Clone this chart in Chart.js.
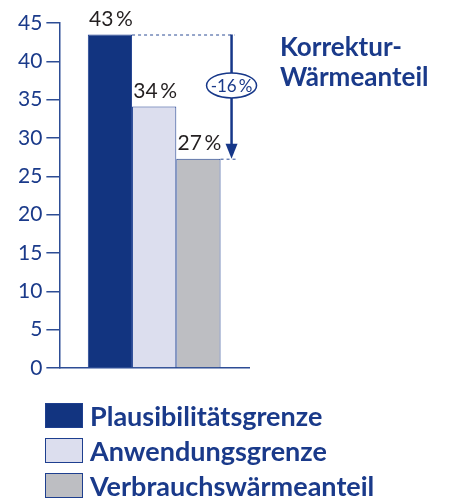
<!DOCTYPE html>
<html>
<head>
<meta charset="utf-8">
<script src="https://cdn.jsdelivr.net/npm/chart.js@4.4.1/dist/chart.umd.min.js"></script>
<style>
  html, body { margin: 0; padding: 0; background: #fff; }
  #wrap { position: relative; width: 452px; height: 498px; overflow: hidden; }
  #chart { position: absolute; left: 0; top: 0; }
  #title { position: absolute; left: 280px; top: 31px; font: bold 26px Lato, sans-serif; line-height: 30px; color: #1a3a8a; }
  #legend { position: absolute; left: 45px; top: 398px; }
  .row { display: flex; align-items: center; height: 35px; }
  .box { width: 36px; height: 23px; border: 1px solid #1e3f8f; margin-right: 7px; }
  .txt { font: bold 27px Lato, sans-serif; color: #1a3a8a; }
</style>
</head>
<body>
<div id="wrap">
  <canvas id="chart" width="452" height="498"></canvas>
  <div id="title">Korrektur-<br>Wärmeanteil</div>
  <div id="legend"></div>
</div>
<script>
// Daten
const seriesNames = ['Plausibilitätsgrenze', 'Anwendungsgrenze', 'Verbrauchswärmeanteil'];
const seriesValues = [43.5, 34.1, 27.3];
const valueLabels = ['43\u2009%', '34\u2009%', '27\u2009%'];
const seriesColors = ['#123480', '#dcdeee', '#bdbec2'];
const yTicks = [0, 5, 10, 15, 20, 25, 30, 35, 40, 45];
const diffLabel = '-16\u2009%';

const BLUE = '#1a3a8a';
const AXIS = '#2d4d95';

// Beschriftungen + Pfeil
const annotPlugin = {
  id: 'annot',
  afterDatasetsDraw(chart) {
    const ctx = chart.ctx;
    const bars = seriesValues.map((v, i) => chart.getDatasetMeta(i).data[0]);

    // Werte über den Balken
    ctx.save();
    ctx.font = '21px Lato, sans-serif';
    ctx.fillStyle = '#231f20';
    ctx.textAlign = 'center';
    ctx.textBaseline = 'alphabetic';
    bars.forEach((b, i) => ctx.fillText(valueLabels[i], b.x + 1, b.y - 9));
    ctx.restore();

    const first = bars[0], last = bars[bars.length - 1];
    const x1 = first.x + first.width / 2;
    const x3 = last.x + last.width / 2;
    const ax = x3 + 11;
    const y1 = first.y, y3 = last.y;

    ctx.save();
    ctx.strokeStyle = AXIS;
    ctx.lineWidth = 1;
    ctx.setLineDash([3, 3]);
    ctx.beginPath();
    ctx.moveTo(x1, y1 + 0.5); ctx.lineTo(ax + 3, y1 + 0.5);
    ctx.moveTo(x3, y3 + 0.5); ctx.lineTo(ax + 6, y3 + 0.5);
    ctx.stroke();
    ctx.setLineDash([]);

    // Pfeil
    ctx.strokeStyle = '#163789';
    ctx.fillStyle = '#163789';
    ctx.lineWidth = 2.5;
    ctx.beginPath();
    ctx.moveTo(ax, y1); ctx.lineTo(ax, y3 - 12);
    ctx.stroke();
    ctx.beginPath();
    ctx.moveTo(ax - 6, y3 - 15); ctx.lineTo(ax + 6, y3 - 15); ctx.lineTo(ax, y3);
    ctx.closePath();
    ctx.fill();

    // Ellipse mit Differenz
    const ey = y1 + (y3 - y1) * 0.41;
    ctx.beginPath();
    ctx.ellipse(ax, ey, 25, 12.5, 0, 0, Math.PI * 2);
    ctx.fillStyle = '#fff';
    ctx.fill();
    ctx.lineWidth = 1.5;
    ctx.strokeStyle = '#163789';
    ctx.stroke();
    ctx.fillStyle = BLUE;
    ctx.font = '17px Lato, sans-serif';
    ctx.textAlign = 'center';
    ctx.textBaseline = 'middle';
    ctx.fillText(diffLabel, ax, ey + 1);
    ctx.restore();
  }
};

new Chart(document.getElementById('chart'), {
  type: 'bar',
  data: {
    labels: [''],
    datasets: seriesNames.map((name, i) => ({
      label: name,
      data: [seriesValues[i]],
      backgroundColor: seriesColors[i],
      borderColor: '#1e3f8f',
      borderWidth: 1,
      categoryPercentage: 0.7,
      barPercentage: 1
    }))
  },
  options: {
    responsive: false,
    animation: false,
    layout: { padding: { left: 14, right: 203, top: 23, bottom: 122 } },
    plugins: { legend: { display: false }, tooltip: { enabled: false } },
    scales: {
      x: {
        ticks: { display: false },
        grid: { display: false },
        border: { display: true, color: AXIS, width: 1.5 }
      },
      y: {
        min: 0,
        max: 45,
        afterBuildTicks: (axis) => { axis.ticks = yTicks.map(v => ({ value: v })); },
        ticks: { color: BLUE, font: { family: 'Lato', size: 21 }, padding: 4 },
        grid: { drawOnChartArea: false, drawTicks: true, tickLength: 13, color: AXIS, lineWidth: 1.5 },
        border: { display: true, color: AXIS, width: 1.5 }
      }
    }
  },
  plugins: [annotPlugin]
});

// Legende
const legend = document.getElementById('legend');
seriesNames.forEach((name, i) => {
  const row = document.createElement('div');
  row.className = 'row';
  row.innerHTML = `<div class="box" style="background:${seriesColors[i]}"></div><span class="txt">${name}</span>`;
  legend.appendChild(row);
});
</script>
</body>
</html>
